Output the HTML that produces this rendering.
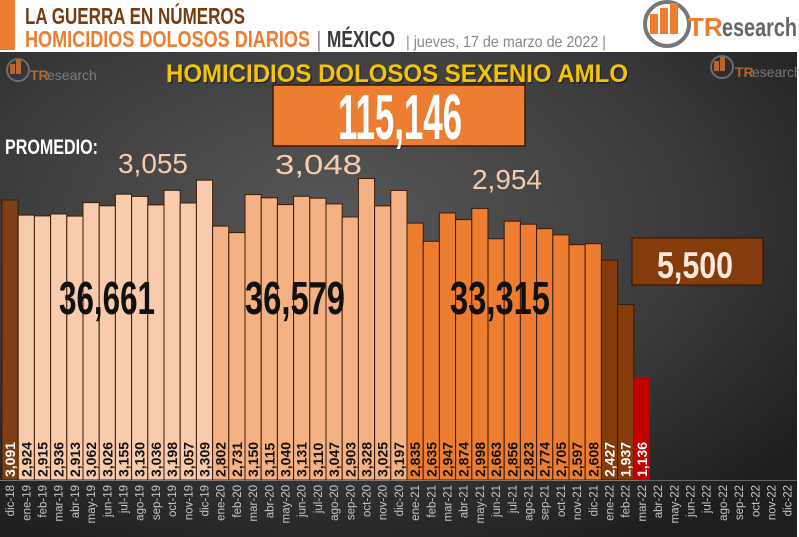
<!DOCTYPE html>
<html><head><meta charset="utf-8"><style>
html,body{margin:0;padding:0;background:#fff}
svg{display:block}
text{font-family:"Liberation Sans Narrow","Liberation Sans",sans-serif}
</style></head><body>
<svg width="799" height="537" xmlns="http://www.w3.org/2000/svg">
<defs>
<radialGradient id="bg" cx="0.42" cy="0.35" r="0.75">
<stop offset="0" stop-color="#585858"/><stop offset="0.6" stop-color="#3a3a3a"/><stop offset="1" stop-color="#1e1e1e"/>
</radialGradient>
</defs>
<rect x="0" y="0" width="799" height="52" fill="#fff"/>
<rect x="0" y="0" width="15" height="50" fill="#ed7d31"/>
<rect x="0" y="52" width="797" height="485" fill="url(#bg)"/>
<rect x="797" y="52" width="2" height="485" fill="#fff"/>
<text x="25" y="24" font-size="23" font-weight="bold" fill="#7a3a10" textLength="220" lengthAdjust="spacingAndGlyphs">LA GUERRA EN NÚMEROS</text>
<text x="25" y="47" font-size="23" font-weight="bold" fill="#ed7d31" textLength="285" lengthAdjust="spacingAndGlyphs">HOMICIDIOS DOLOSOS DIARIOS</text>
<text x="316" y="47" font-size="22" fill="#999">|</text>
<text x="327" y="47" font-size="23" font-weight="bold" fill="#3a3a3a" textLength="68" lengthAdjust="spacingAndGlyphs">MÉXICO</text>
<text x="406" y="47" font-size="16" fill="#888" textLength="200" lengthAdjust="spacingAndGlyphs">| jueves, 17 de marzo de 2022 |</text>
<!-- logo -->
<circle cx="667" cy="24" r="22" fill="none" stroke="#777" stroke-width="4"/>
<rect x="650" y="14" width="8" height="20" fill="#ed7d31"/><rect x="660" y="8" width="8" height="26" fill="#ed7d31"/><rect x="670" y="3" width="8" height="31" fill="#ed7d31"/>
<text x="688" y="36" font-size="26" font-weight="bold" fill="#ed7d31">TR</text>
<text x="722" y="36" font-size="26" font-weight="bold" fill="#666" textLength="75" lengthAdjust="spacingAndGlyphs">esearch</text>
<g opacity="0.7">
<circle cx="18" cy="70" r="11" fill="none" stroke="#888" stroke-width="2"/>
<rect x="10" y="64" width="5" height="10" fill="#ed7d31"/><rect x="16" y="60" width="5" height="14" fill="#ed7d31"/>
<text x="30" y="80" font-size="14" font-weight="bold" fill="#ed7d31">TR</text><text x="47" y="80" font-size="14" fill="#999">esearch</text>
<circle cx="722" cy="67" r="11" fill="none" stroke="#888" stroke-width="2"/>
<rect x="714" y="61" width="5" height="10" fill="#ed7d31"/><rect x="720" y="57" width="5" height="14" fill="#ed7d31"/>
<text x="735" y="77" font-size="14" font-weight="bold" fill="#ed7d31">TR</text><text x="752" y="77" font-size="14" fill="#999">esearch</text>
</g>
<text x="166" y="82" font-size="25" font-weight="bold" fill="#111" textLength="462" lengthAdjust="spacingAndGlyphs" opacity="0.6" dx="1.5" dy="1.5">HOMICIDIOS  DOLOSOS  SEXENIO  AMLO</text>
<text x="166" y="82" font-size="25" font-weight="bold" fill="#f5c400" textLength="462" lengthAdjust="spacingAndGlyphs">HOMICIDIOS  DOLOSOS  SEXENIO  AMLO</text>
<rect x="273" y="85" width="252" height="61" fill="#ed7d31" stroke="#3a1a05" stroke-width="1.5"/>
<text x="338" y="139" font-size="64" font-weight="bold" fill="#fff" textLength="124" lengthAdjust="spacingAndGlyphs">115,146</text>
<text x="5" y="154" font-size="21" font-weight="bold" fill="#fff" textLength="93" lengthAdjust="spacingAndGlyphs">PROMEDIO:</text>
<text x="118" y="173" font-size="28" fill="#f8cbad" textLength="70" lengthAdjust="spacingAndGlyphs">3,055</text>
<text x="275" y="174" font-size="28" fill="#f8cbad" textLength="87" lengthAdjust="spacingAndGlyphs">3,048</text>
<text x="472" y="189" font-size="28" fill="#f8cbad" textLength="70" lengthAdjust="spacingAndGlyphs">2,954</text>
<g id="bars"></g>
<rect x="0" y="480" width="640" height="1" fill="#777"/>
<rect x="640" y="480" width="157" height="1" fill="#666"/>
<text x="59" y="314" font-size="46" font-weight="bold" fill="#111" textLength="96" lengthAdjust="spacingAndGlyphs">36,661</text>
<text x="245" y="314" font-size="46" font-weight="bold" fill="#111" textLength="100" lengthAdjust="spacingAndGlyphs">36,579</text>
<text x="450" y="314" font-size="46" font-weight="bold" fill="#111" textLength="100" lengthAdjust="spacingAndGlyphs">33,315</text>
<rect x="632" y="238" width="131" height="47" fill="#843c0c" stroke="#2a1204" stroke-width="1"/>
<text x="657" y="278" font-size="37" font-weight="bold" fill="#fde8dc" textLength="76" lengthAdjust="spacingAndGlyphs">5,500</text>
</svg>
<script>
var v=[3091,2924,2915,2936,2913,3062,3026,3155,3130,3036,3198,3057,3309,2802,2731,3150,3115,3040,3131,3110,3047,2903,3328,3025,3197,2835,2635,2947,2874,2998,2663,2856,2823,2774,2705,2597,2608,2427,1937,1136];
var m=["ene","feb","mar","abr","may","jun","jul","ago","sep","oct","nov","dic"];
var labels=["dic-18"];for(var y=19;y<=22;y++)for(var k=0;k<12;k++)labels.push(m[k]+"-"+y);
var g=document.getElementById("bars"),s="";
for(var i=0;i<v.length;i++){
 var x=2+i*16.2,h=v[i]*0.0906,c,tc="#111";
 if(i==0){c="#7f3f12";tc="#fff"}else if(i<=12)c="#f8cbad";else if(i<=24)c="#f4b183";else if(i<=36)c="#ed7d31";else if(i<=38){c="#843c0c";tc="#fff"}else{c="#c00000";tc="#fff"}
 var sw=(i==39)?0:1;
 s+='<rect x="'+x.toFixed(1)+'" y="'+(480-h).toFixed(1)+'" width="16.2" height="'+h.toFixed(1)+'" fill="'+c+'" stroke="#3a1a05" stroke-width="'+sw+'"/>';
 var cx=x+8.1+5;
 s+='<text transform="translate('+cx.toFixed(1)+',477) rotate(-90)" font-family="Liberation Sans" font-size="14" font-weight="bold" fill="'+tc+'">'+v[i].toLocaleString("en-US")+'</text>';
}
for(var i=0;i<labels.length;i++){
 var cx=2+i*16.2+8.1+4;
 s+='<text transform="translate('+cx.toFixed(1)+',485) rotate(-90)" text-anchor="end" font-family="Liberation Sans" font-size="11.5" fill="#c8c8c8">'+labels[i]+'</text>';
}
g.innerHTML=s;
</script>
</body></html>
